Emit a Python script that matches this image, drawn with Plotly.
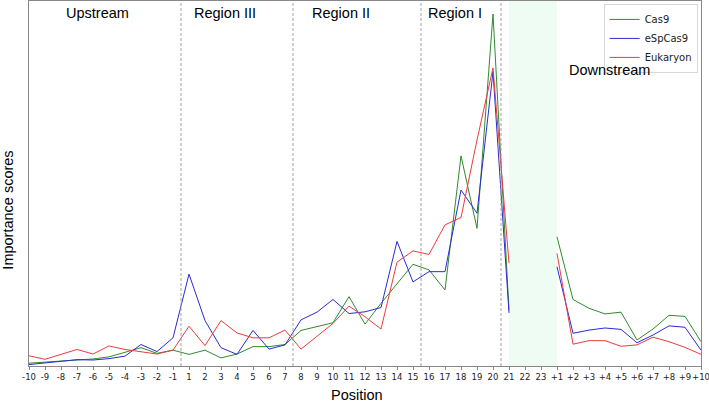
import plotly.graph_objects as go

positions = ([str(i) for i in range(-10, 0)] + [str(i) for i in range(1, 24)]
             + ['+' + str(i) for i in range(1, 11)])

# importance scores (22 and 23 have no data)
cas9 = [0.008, 0.011, 0.015, 0.019, 0.020, 0.026, 0.038, 0.052, 0.036, 0.045,
        0.033, 0.045, 0.023, 0.034, 0.055, 0.055, 0.061, 0.101, 0.112, 0.123,
        0.197, 0.119, 0.178, 0.235, 0.289, 0.273, 0.216, 0.597, 0.391, 1.000,
        0.159, None, None,
        0.367, 0.189, 0.164, 0.148, 0.153, 0.074, 0.105, 0.144, 0.141, 0.069]
espcas9 = [0.004, 0.009, 0.015, 0.018, 0.017, 0.021, 0.028, 0.061, 0.041, 0.080,
           0.261, 0.129, 0.052, 0.033, 0.101, 0.048, 0.060, 0.131, 0.153, 0.189,
           0.149, 0.154, 0.166, 0.354, 0.239, 0.268, 0.268, 0.500, 0.434, 0.836,
           0.151, None, None,
           0.282, 0.093, 0.102, 0.108, 0.104, 0.066, 0.088, 0.114, 0.110, 0.045]
eukaryon = [0.029, 0.019, 0.033, 0.047, 0.034, 0.057, 0.047, 0.040, 0.034, 0.045,
            0.113, 0.058, 0.129, 0.094, 0.080, 0.080, 0.102, 0.048, 0.085, 0.121,
            0.170, 0.140, 0.105, 0.295, 0.327, 0.317, 0.401, 0.422, 0.642, 0.847,
            0.292, None, None,
            0.320, 0.062, 0.072, 0.072, 0.056, 0.060, 0.082, 0.069, 0.053, 0.033]

region_names = ['Upstream', 'Region III', 'Region II', 'Region I', 'Downstream']

fig = go.Figure()
for name, vals, col in [('Cas9', cas9, '#2e8b2e'),
                        ('eSpCas9', espcas9, '#2b2bd6'),
                        ('Eukaryon', eukaryon, '#ec3b3b')]:
    fig.add_trace(go.Scatter(x=positions, y=vals, name=name, mode='lines',
                             line=dict(color=col, width=1), connectgaps=False))

# shaded gap (21 -> +1) and region separators
fig.add_shape(type='rect', xref='x', yref='paper', x0=30, x1=33, y0=0, y1=1,
              fillcolor='#effcf4', line_width=0, layer='below')
for xs in [9.5, 16.5, 24.5, 29.5]:
    fig.add_shape(type='line', xref='x', yref='paper', x0=xs, x1=xs, y0=0, y1=1,
                  line=dict(color='#a0a0a0', width=1, dash='3px,2px'))

label_x = [4.25, 12.25, 19.5, 26.6, 36.3]
label_y = [0.967, 0.967, 0.967, 0.967, 0.81]
for txt, lx, ly in zip(region_names, label_x, label_y):
    fig.add_annotation(text=txt, x=lx, y=ly, xref='x', yref='paper',
                       xanchor='center', yanchor='middle', showarrow=False,
                       font=dict(family='Liberation Sans', size=14.5, color='black'))

# axis titles
fig.add_annotation(text='Position', x=0.488, y=-0.079, xref='paper', yref='paper',
                   xanchor='center', yanchor='middle', showarrow=False,
                   font=dict(family='Liberation Sans', size=14.5, color='black'))
fig.add_annotation(text='Importance scores', x=-0.0305, y=0.427, xref='paper', yref='paper',
                   xanchor='center', yanchor='middle', textangle=-90, showarrow=False,
                   font=dict(family='Liberation Sans', size=14.5, color='black'))

fig.update_layout(
    width=709, height=402,
    margin=dict(l=29, r=8, t=1, b=36),
    plot_bgcolor='white', paper_bgcolor='white',
    showlegend=True,
    legend=dict(x=0.995, y=0.992, xanchor='right', yanchor='top',
                bordercolor='#d8d8d8', borderwidth=1, bgcolor='white',
                font=dict(family='DejaVu Sans', size=10, color='#222'),
                tracegroupgap=0),
    xaxis=dict(type='category', categoryorder='array', categoryarray=positions,
               range=[0, 42], showgrid=False, zeroline=False, automargin=False,
               showline=True, linecolor='#888888', linewidth=1, mirror=True,
               ticks='outside', ticklen=3, tickcolor='#888888', tickangle=0,
               tickfont=dict(family='DejaVu Sans', size=8.5, color='#222')),
    yaxis=dict(range=[0, 1.037], showgrid=False, zeroline=False, automargin=False,
               showline=True, linecolor='#888888', linewidth=1, mirror=True,
               showticklabels=False, ticks=''),
)

fig.write_html("out.html", config={'displayModeBar': False},
               post_script="document.body.style.margin='0';")
